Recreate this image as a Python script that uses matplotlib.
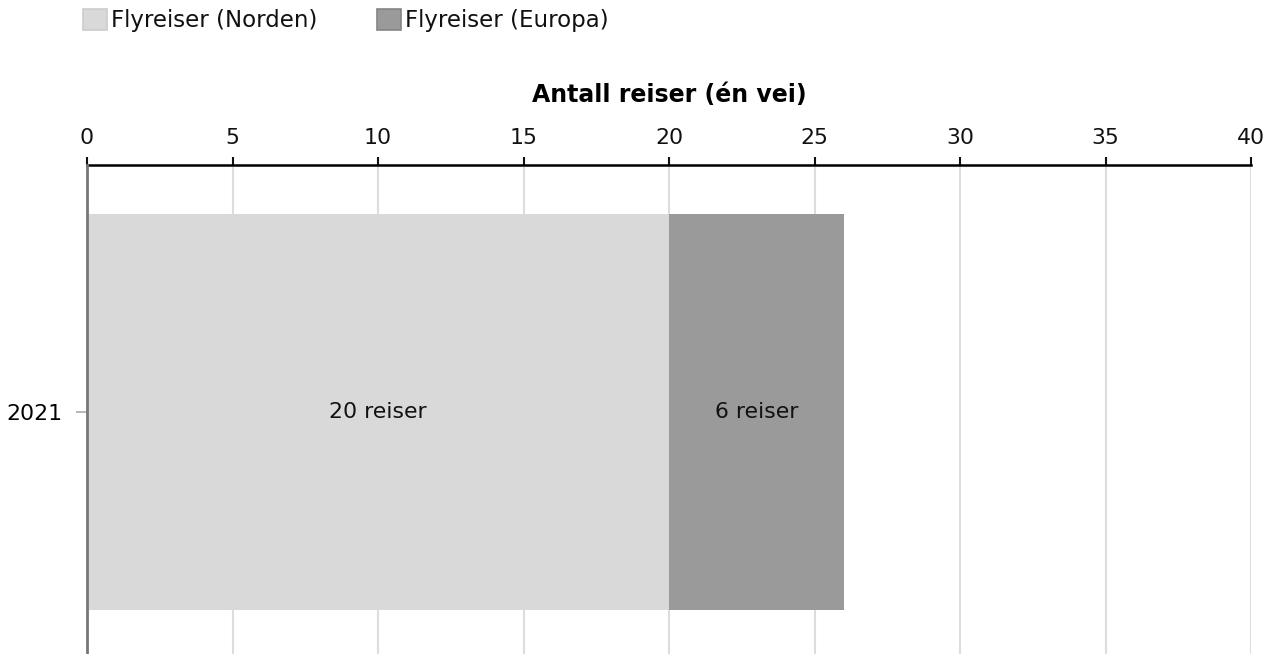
import matplotlib.pyplot as plt
from matplotlib.patches import Rectangle

# data
years = ["2021"]
series = ["Flyreiser (Norden)", "Flyreiser (Europa)"]
values = [[20], [6]]
colors = ["#d9d9d9", "#9a9a9a"]
edge_colors = ["#cccccc", "#858585"]
xlabel = "Antall reiser (én vei)"

plt.rcParams['font.family'] = ['DejaVu Sans']

fig = plt.figure(figsize=(12.79, 6.54), dpi=100)
W, H = 1279, 654
ax = fig.add_axes([87 / W, 0, (1251 - 87) / W, 1 - 165 / H])

ypos = list(range(len(years)))
left = [0] * len(years)
for vals, col, name in zip(values, colors, series):
    bars = ax.barh(ypos, vals, left=left, height=0.8, color=col, zorder=2)
    for b, v in zip(bars, vals):
        ax.text(b.get_x() + b.get_width() / 2, b.get_y() + b.get_height() / 2,
                f"{v} reiser", ha='center', va='center', fontsize=15.8, color='#111111', zorder=3)
    left = [l + v for l, v in zip(left, vals)]

ax.set_xlim(0, 40)
ax.set_ylim(-0.489, 0.499)
ax.set_xticks(range(0, 41, 5))
ax.xaxis.tick_top()
ax.xaxis.set_label_position('top')
ax.set_xlabel(xlabel, fontsize=17, fontweight='bold', labelpad=19)
ax.tick_params(axis='x', direction='out', length=6, width=1.5, labelsize=15.8, pad=6, colors='#111111')
ax.set_yticks(ypos)
ax.set_yticklabels(years)
ax.tick_params(axis='y', direction='out', length=8, width=1.2, color='#aaaaaa', labelsize=15.8, pad=10)
ax.grid(axis='x', color='#dddddd', linewidth=1.5, zorder=0)
ax.set_axisbelow(True)

for s in ['right', 'bottom']:
    ax.spines[s].set_visible(False)
ax.spines['top'].set_linewidth(1.8)
ax.spines['left'].set_color('#777777')
ax.spines['left'].set_linewidth(2)
ax.spines['left'].set_zorder(4)

# legend drawn at figure level
leg_x = [83, 377]
for x0, name, col, ec in zip(leg_x, series, colors, edge_colors):
    fig.patches.append(Rectangle((x0 / W, 1 - 30 / H), 24 / W, 21 / H, transform=fig.transFigure,
                                 facecolor=col, edgecolor=ec, linewidth=1.2))
    fig.text((x0 + 28) / W, 1 - 20 / H, name, ha='left', va='center', fontsize=16.5, color='#111111')

fig.savefig("out.png", dpi=100)
